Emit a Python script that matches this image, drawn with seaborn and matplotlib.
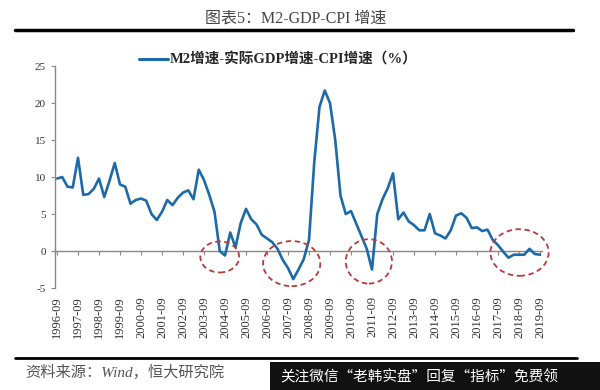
import numpy as np
import pandas as pd
import matplotlib
matplotlib.use('Agg')
import matplotlib.pyplot as plt
from matplotlib.patches import Ellipse, Rectangle
from matplotlib.lines import Line2D
import seaborn as sns

# Quarterly data, 1996-09 .. 2019-09
quarters = [p.strftime('%Y-%m') for p in pd.period_range('1996Q3', '2019Q3', freq='Q').to_timestamp(how='end')]
m2_gap = [9.8, 10.0, 8.7, 8.6, 12.6, 7.6, 7.7, 8.4, 9.8, 7.3,
          9.5, 11.9, 9.0, 8.7, 6.4, 6.9, 7.1, 6.8, 5.0, 4.2,
          5.3, 6.9, 6.2, 7.2, 7.9, 8.2, 7.0, 11.0, 9.6, 7.6,
          5.3, 0.0, -0.6, 2.5, 0.5, 3.8, 5.7, 4.3, 3.6, 2.2,
          1.7, 1.2, 0.3, -1.2, -2.3, -3.8, -2.5, -1.1, 1.5, 12.0,
          19.5, 21.7, 20.0, 15.0, 7.5, 5.0, 5.4, 3.7, 2.0, 0.3,
          -2.5, 5.0, 7.0, 8.5, 10.5, 4.3, 5.2, 4.0, 3.5, 2.8,
          2.8, 5.0, 2.4, 2.1, 1.7, 2.8, 4.8, 5.1, 4.5, 3.1,
          3.2, 2.7, 2.9, 1.5, 0.8, -0.1, -0.9, -0.5, -0.5, -0.5,
          0.3, -0.4, -0.5]
label_every = 4
series_name = 'M2增速-实际GDP增速-CPI增速（%）'

# highlighted periods (center index, center value, width, height)
circles = [(31.0, -0.8, 7.4, 4.2), (44.7, -1.7, 10.9, 6.1),
           (59.4, -1.4, 8.8, 6.0), (88.1, -0.2, 11.1, 6.3)]

df = pd.DataFrame({'idx': np.arange(len(quarters)), 'quarter': quarters, 'value': m2_gap})

sns.set_style('white')
plt.rcParams['font.family'] = ['Liberation Serif', 'Noto Sans CJK SC']
plt.rcParams['axes.unicode_minus'] = False

fig = plt.figure(figsize=(6, 3.9), dpi=100)
ax = fig.add_axes([0.0915, 0.2615, 0.812, 0.569])

sns.lineplot(data=df, x='idx', y='value', ax=ax, color='#1d6aa8', linewidth=1.9,
             label=series_name, legend=False)
ax.lines[0].set_solid_joinstyle('round')

for cx, cy, w, h in circles:
    ax.add_patch(Ellipse((cx, cy), w, h, fill=False, edgecolor='#b83a3a',
                         linestyle=(0, (3, 2)), linewidth=1.3, zorder=5, clip_on=False))

ax.set_xlim(-0.4, 92.4)
ax.set_ylim(-5, 25)
ax.set_yticks([-5, 0, 5, 10, 15, 20, 25])
ticks = df['idx'][::label_every]
ax.set_xticks(ticks)
ax.set_xticklabels(df['quarter'][::label_every], rotation=90, fontsize=9, color='#333333')
ax.tick_params(axis='x', length=0, pad=6)
ax.tick_params(axis='y', length=3, direction='out', color='#888888', labelsize=8,
               labelcolor='#333333', left=True, width=0.8)
ax.set_xlabel('')
ax.set_ylabel('')
for s in ['top', 'right', 'bottom']:
    ax.spines[s].set_visible(False)
ax.spines['left'].set_color('#888888')
ax.spines['left'].set_linewidth(1.0)

# category axis on the zero line
sec = ax.secondary_xaxis(5 / 30)
sec.set_xticks(ticks)
sec.set_xticklabels([])
sec.tick_params(axis='x', direction='out', length=3, color='#888888', width=0.8)
sec.spines['bottom'].set_color('#888888')
sec.spines['bottom'].set_linewidth(1.0)

fig.legend(handles=[Line2D([], [], color='#1d6aa8', linewidth=2.2)], labels=[series_name],
           loc='center left', bbox_to_anchor=(0.232, 1 - 60 / 390), frameon=False,
           handlelength=2.0, handletextpad=0.1, borderpad=0, borderaxespad=0,
           prop={'weight': 'bold', 'size': 10.5})

fig.text(0.492, 1 - 19 / 390, '图表5：M2-GDP-CPI 增速', ha='center', va='center',
         fontsize=11.5, color='#444444')
fig.add_artist(Line2D([15 / 600, 573 / 600], [1 - 30 / 390] * 2, color='black', linewidth=2.5))
fig.add_artist(Line2D([15 / 600, 577 / 600], [1 - 358 / 390] * 2, color='black', linewidth=2.0))
fig.text(25 / 600, 1 - 372 / 390, '资料来源：Wind，恒大研究院', ha='left', va='center',
         fontsize=11, color='#555555', style='italic')

fig.add_artist(Rectangle((270 / 600, 0), 330 / 600, 28 / 390, transform=fig.transFigure,
                         facecolor='#111111', edgecolor='none'))
fig.text(280 / 600, 13 / 390, '关注微信“老韩实盘”回复“指标”免费领', ha='left', va='center',
         fontsize=10.5, color='white', family=['Noto Sans CJK SC', 'DejaVu Sans'])

fig.savefig('out.png', dpi=100)
